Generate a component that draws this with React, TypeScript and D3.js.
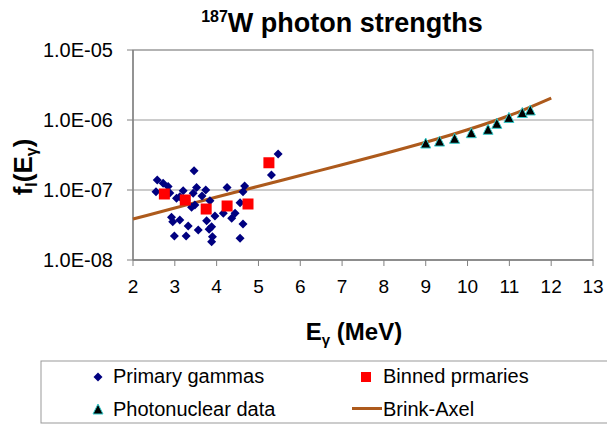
import React from "react";
import * as d3 from "d3";

// Primary gammas (E in MeV, f)
const primaryE = [2.58, 2.72, 2.84, 2.55, 2.88, 3.46, 3.2, 3.52, 3.74, 3.04, 3.44, 3.48, 3.84, 4.25, 4.67, 4.63, 5.31, 5.47, 2.92, 2.95, 3.12, 3.32, 2.99, 3.27, 3.56, 3.76, 3.88, 3.82, 3.96, 3.9, 3.88, 4.16, 4.36, 4.44, 4.63, 4.56, 3.4, 3.12, 4.56, 3.27, 3.65];
const primaryF = [1.39e-7, 1.25e-7, 1.12e-7, 9.46e-8, 9.06e-8, 1.89e-7, 9.77e-8, 1.09e-7, 1.0e-7, 7.61e-8, 8.97e-8, 6.11e-8, 7.03e-8, 1.09e-7, 1.14e-7, 9.46e-8, 1.64e-7, 3.27e-7, 4.07e-8, 3.52e-8, 3.73e-8, 3.06e-8, 2.2e-8, 2.2e-8, 2.68e-8, 3.64e-8, 2.99e-8, 2.75e-8, 4.25e-8, 2.15e-8, 1.82e-8, 4.64e-8, 3.94e-8, 4.64e-8, 3.27e-8, 2.04e-8, 5.66e-8, 8.02e-8, 6.59e-8, 7.2e-8, 8.2e-8];

// Binned primaries
const binnedE = [2.75, 3.25, 3.75, 4.25, 4.75, 5.25];
const binnedF = [8.77e-8, 7.2e-8, 5.35e-8, 5.91e-8, 6.31e-8, 2.45e-7];

// Photonuclear data
const photoE = [9.0, 9.33, 9.69, 10.09, 10.49, 10.7, 10.99, 11.31, 11.5];
const photoF = [4.69e-7, 5.0e-7, 5.48e-7, 6.59e-7, 7.37e-7, 8.97e-7, 1.09e-6, 1.28e-6, 1.39e-6];

// Brink-Axel curve
const brinkE = [2, 3, 4, 5, 6, 7, 8, 9, 10, 11, 12];
const brinkF = [3.85e-8, 5.53e-8, 7.94e-8, 1.133e-7, 1.611e-7, 2.291e-7, 3.289e-7, 4.802e-7, 7.244e-7, 1.16e-6, 2.062e-6];

const xTicks = [2, 3, 4, 5, 6, 7, 8, 9, 10, 11, 12, 13];
const yTicks = [1e-8, 1e-7, 1e-6, 1e-5];
const yTickLabels = ["1.0E-08", "1.0E-07", "1.0E-06", "1.0E-05"];

const FONT = "'Liberation Sans', Arial, Helvetica, sans-serif";
const NAVY = "#000080";
const RED = "#FF0000";
const CYAN = "#33CCCC";
const BROWN = "#AD5A1C";
const GRID = "#999999";

const diamond = (r: number) => `M0,${-r}L${r},0L0,${r}L${-r},0Z`;
const triangle = (w: number, h: number) => `M0,${-h / 2}L${w / 2},${h / 2}L${-w / 2},${h / 2}Z`;

export default function App() {
  const left = 133, right = 593, top = 50, bottom = 260;
  const x = d3.scaleLinear().domain([2, 13]).range([left, right]);
  const y = d3.scaleLog().domain([1e-8, 1e-5]).range([bottom, top]);

  const line = d3
    .line<number>()
    .x((_, i) => x(brinkE[i]))
    .y((d) => y(d))
    .curve(d3.curveMonotoneX);

  return (
    <svg
      width={607}
      height={426}
      style={{ position: "absolute", left: 0, top: 0, background: "#fff" }}
      fontFamily={FONT}
    >
      <rect x={0} y={0} width={607} height={426} fill="#fff" />
      {/* Title */}
      <text x={342} y={32} textAnchor="middle" fontWeight="bold" fontSize={27} fill="#000">
        <tspan fontSize={16} dy={-10}>187</tspan>
        <tspan dy={10}>W photon strengths</tspan>
      </text>

      {/* grid lines */}
      {yTicks.map((t) => (
        <line key={"g" + t} x1={left} x2={right} y1={y(t)} y2={y(t)} stroke={GRID} strokeWidth={1} />
      ))}
      {/* plot border */}
      <rect x={left} y={top} width={right - left} height={bottom - top} fill="none" stroke={GRID} strokeWidth={1} />
      <line x1={left} x2={left} y1={top} y2={bottom} stroke="#808080" strokeWidth={1.5} />
      <line x1={left} x2={right} y1={bottom} y2={bottom} stroke="#808080" strokeWidth={1.5} />

      {/* y ticks */}
      {yTicks.map((t, i) => (
        <g key={"y" + t}>
          <line x1={left - 6} x2={left} y1={y(t)} y2={y(t)} stroke="#808080" strokeWidth={1} />
          <text x={113} y={y(t)} dy="0.36em" textAnchor="end" fontSize={20} fill="#000">
            {yTickLabels[i]}
          </text>
        </g>
      ))}
      {/* x ticks */}
      {xTicks.map((t) => (
        <g key={"x" + t}>
          <line x1={x(t)} x2={x(t)} y1={bottom} y2={bottom + 6} stroke="#808080" strokeWidth={1} />
          <text x={x(t)} y={293} textAnchor="middle" fontSize={19} fill="#000">
            {t}
          </text>
        </g>
      ))}

      {/* axis titles */}
      <text x={354} y={340} textAnchor="middle" fontWeight="bold" fontSize={24} fill="#000">
        <tspan>E</tspan>
        <tspan fontSize={15} dy={5}>γ</tspan>
        <tspan dy={-5}> (MeV)</tspan>
      </text>
      <text
        transform="translate(32,167) rotate(-90)"
        textAnchor="middle"
        fontWeight="bold"
        fontSize={26}
        fill="#000"
      >
        <tspan>f</tspan>
        <tspan fontSize={16} dy={5}>l</tspan>
        <tspan dy={-5}>(E</tspan>
        <tspan fontSize={16} dy={5}>γ</tspan>
        <tspan dy={-5}>)</tspan>
      </text>

      {/* Brink-Axel line */}
      <path d={line(brinkF) || ""} fill="none" stroke={BROWN} strokeWidth={3} />

      {/* primary gammas */}
      {primaryE.map((e, i) => (
        <path key={"p" + i} d={diamond(4.5)} transform={`translate(${x(e)},${y(primaryF[i])})`} fill={NAVY} />
      ))}
      {/* binned */}
      {binnedE.map((e, i) => (
        <rect key={"b" + i} x={x(e) - 5.5} y={y(binnedF[i]) - 5.5} width={11} height={11} fill={RED} />
      ))}
      {/* photonuclear */}
      {photoE.map((e, i) => (
        <path
          key={"ph" + i}
          d={triangle(10, 10)}
          transform={`translate(${x(e)},${y(photoF[i])})`}
          fill="#000"
          stroke={CYAN}
          strokeWidth={1}
        />
      ))}

      {/* Legend */}
      <rect x={41} y={361} width={580} height={62} fill="#fff" stroke={GRID} strokeWidth={1} />
      <path d={diamond(4.5)} transform="translate(98,377)" fill={NAVY} />
      <text x={113} y={383} fontSize={20} fill="#000">Primary gammas</text>
      <rect x={361} y={372} width={10} height={10} fill={RED} />
      <text x={383} y={383} fontSize={20} fill="#000">Binned prmaries</text>
      <path d={triangle(10, 10)} transform="translate(98,409)" fill="#000" stroke={CYAN} strokeWidth={1} />
      <text x={113} y={416} fontSize={20} fill="#000">Photonuclear data</text>
      <line x1={352} x2={382} y1={408.5} y2={408.5} stroke={BROWN} strokeWidth={3} />
      <text x={383} y={416} fontSize={20} fill="#000">Brink-Axel</text>
    </svg>
  );
}
